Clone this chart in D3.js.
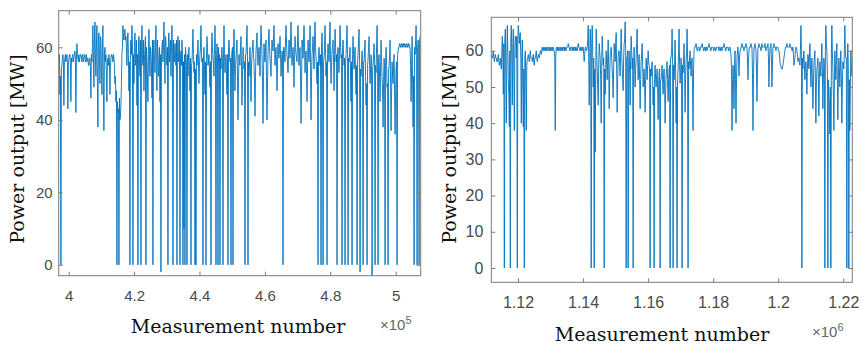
<!DOCTYPE html>
<html>
<head>
<meta charset="utf-8">
<script src="https://cdn.jsdelivr.net/npm/d3@7"></script>
<style>
  html, body { margin: 0; padding: 0; background: #fff; }
  svg { display: block; }
</style>
</head>
<body>
<svg id="chart" width="863" height="348"></svg>
<script>
// ---------------- DATA ----------------
// Left panel: measurement numbers start + step, power output values [MW]
const leftStart = 397000;
const leftStep = 306;
const leftValues = [
  56, 47, 0, 55, 58, 44, 57, 56, 58, 43,
  57, 58, 45, 56, 58, 57, 59, 42, 61, 57,
  58, 57, 58, 56, 58, 57, 58, 57, 56, 57,
  55, 57, 46, 56, 66, 49, 67, 52, 66, 38,
  64, 50, 62, 47, 66, 37, 60, 58, 45, 57,
  58, 47, 57, 58, 56, 57, 50, 45, 0, 42,
  0, 40, 44, 58, 66, 62, 65, 63, 55, 64,
  48, 0, 62, 66, 0, 50, 64, 58, 44, 0,
  63, 52, 0, 66, 55, 48, 60, 0, 57, 45,
  65, 52, 58, 46, 0, 62, 53, 66, 48, 58,
  55, 45, -2, 60, 56, 67, 50, 62, 55, 0,
  64, 58, 52, 66, 0, 58, 61, 55, 0, 63,
  57, 0, 59, 62, 0, 10, 0, 58, 0, 52,
  60, 48, 0, 56, 65, 53, 0, 0, 55, 62,
  50, 58, 66, 56, 0, 60, 47, 0, 63, 55,
  58, 49, 0, 64, 57, 52, 66, 0, 61, 0,
  56, 0, 54, 60, 0, 66, 53, 58, 47, 0,
  62, 56, 0, 59, 0, 65, 48, 57, 62, 40,
  58, 55, 63, 44, 60, 54, 0, 58, 66, 0,
  52, 60, 45, 58, 62, 56, 41, 59, 64, 55,
  60, 52, 66, 58, 39, 61, 56, 62, 40, 58,
  65, 57, 52, 62, 59, 66, 55, 60, 48, 61,
  57, 63, 52, 59, 0, 60, 56, 66, 58, 53,
  62, 57, 67, 55, 60, 49, 63, 58, 56, 66,
  55, 60, 39, 62, 57, 66, 53, 59, 45, 62,
  56, 66, 40, 58, 63, 54, 67, 57, 50, 0,
  60, 55, 0, 64, 0, 57, 66, 52, 0, 61,
  56, 67, 50, 59, 62, 48, 65, 56, 0, 60,
  53, 66, 57, 0, 62, 55, 0, 58, 66, 0,
  56, 60, 45, 0, 63, 54, 60, 47, 0, 58,
  65, -2, 52, 59, 0, 56, 62, 44, 0, 57,
  63, 50, 58, -3, 55, 61, 0, 53, 66, 0,
  58, 45, 62, 52, 38, 57, 0, 60, 49, 0,
  55, 62, 37, 56, 50, 58, 36, 54, 0, 59,
  60, 61, 60, 61, 61, 60, 61, 60, 61, 60,
  61, 60, 45, 63, 38, 0, 58, 66, 0, 62,
  0, 63
];
// Intermediate samples (between consecutive leftValues)
const leftValuesMid = [
  58, 52, 54, 57, 56, 56, 58, 57, 56, 55,
  58, 56, 57, 58, 56, 58, 57, 56, 58, 56,
  56, 58, 57, 58, 56, 58, 56, 58, 57, 55,
  57, 54, 58, 60, 57, 62, 58, 60, 50, 62,
  58, 63, 54, 60, 48, 58, 56, 52, 56, 55,
  56, 55, 58, 57, 58, 55, 52, 48, 45, 43,
  46, 41, 50, 60, 63, 64, 62, 60, 62, 58,
  56, 60, 58, 61, 58, 60, 55, 62, 58, 60,
  57, 62, 60, 58, 62, 56, 63, 60, 52, 58,
  58, 60, 55, 62, 60, 57, 60, 55, 62, 52,
  60, 58, 58, 62, 60, 58, 63, 56, 60, 62,
  56, 62, 60, 58, 62, 56, 58, 62, 60, 56,
  62, 57, 55, 58, 56, 58, 60, 55, 58, 58,
  54, 57, 55, 60, 58, 56, 54, 58, 57, 56,
  55, 60, 58, 57, 56, 54, 56, 57, 60, 56,
  54, 56, 58, 60, 55, 60, 58, 56, 58, 60,
  58, 57, 58, 56, 57, 58, 56, 52, 58, 60,
  58, 57, 56, 60, 58, 56, 55, 60, 52, 50,
  56, 60, 55, 52, 58, 56, 58, 62, 58, 56,
  56, 54, 55, 60, 58, 50, 52, 61, 58, 58,
  56, 60, 62, 50, 52, 58, 60, 52, 50, 62,
  60, 55, 58, 60, 62, 60, 58, 55, 56, 58,
  60, 58, 56, 58, 60, 58, 62, 61, 56, 58,
  60, 62, 60, 58, 56, 58, 60, 57, 62, 60,
  58, 52, 50, 60, 62, 60, 56, 52, 55, 58,
  60, 55, 52, 60, 58, 62, 60, 54, 56, 58,
  57, 58, 60, 58, 56, 60, 58, 56, 58, 58,
  62, 56, 55, 60, 56, 58, 60, 58, 57, 56,
  60, 60, 58, 60, 58, 57, 56, 62, 58, 57,
  58, 52, 56, 58, 58, 56, 52, 55, 56, 62,
  56, 54, 56, 55, 56, 60, 52, 50, 55, 60,
  55, 54, 56, 54, 58, 56, 55, 60, 58, 56,
  52, 54, 56, 48, 50, 54, 56, 55, 50, 54,
  58, 50, 48, 52, 55, 48, 46, 56, 58, 60,
  61, 60, 61, 60, 61, 61, 60, 61, 60, 61,
  60, 55, 54, 50, 52, 60, 62, 58, 60, 61,
  62
];

// Right panel
const rightStart = 1111800;
const rightStep = 307;
const rightValues = [
  59, 58, 60, 57, 59, 58, 57, 59, 56, 58,
  55, 64, 48, 0, 66, 40, 67, 52, 39, 0,
  67, 45, 66, 38, 64, 58, 0, 67, 62, 65,
  40, 63, 39, 0, 60, 38, 58, 59, 57, 60,
  58, 57, 59, 56, 58, 60, 57, 59, 58, 60,
  59, 61, 60, 61, 60, 61, 61, 60, 61, 60,
  61, 60, 61, 60, 38, 61, 60, 61, 60, 61,
  60, 61, 61, 60, 61, 60, 61, 62, 61, 60,
  61, 60, 61, 61, 60, 61, 60, 62, 61, 60,
  61, 60, 61, 57, 61, 60, 61, 67, 45, 66,
  0, 67, 50, 0, 32, 66, 55, 45, 62, 58,
  40, 64, 56, 0, 48, 60, 52, 63, 44, 59,
  61, 55, 47, 62, 57, 65, 43, 58, 60, 53,
  66, 56, 49, 62, 68, 0, 58, 0, 60, 45,
  64, 55, 0, 61, 50, 58, 66, 52, 59, 44,
  57, 62, 50, 55, 43, 58, 52, 60, 56, 0,
  53, 57, 45, 0, 56, 50, 55, 41, 54, 0,
  52, 56, 48, 55, 40, 53, 57, 46, 55, 0,
  58, 66, 0, 52, 63, 40, 0, 55, 66, 51,
  58, 0, 54, 62, 43, 57, 66, 0, 55, 60,
  53, 58, 38, 60, 61, 62, 60, 61, 61, 60,
  61, 62, 61, 60, 61, 61, 60, 61, 62, 61,
  60, 61, 61, 60, 61, 60, 61, 61, 60, 61,
  61, 60, 61, 62, 61, 60, 61, 61, 60, 61,
  59, 38, 56, 44, 60, 40, 58, 61, 53, 60,
  61, 62, 61, 60, 61, 62, 61, 52, 60, 61,
  62, 61, 38, 61, 62, 60, 46, 61, 62, 61,
  60, 62, 61, 61, 62, 60, 61, 62, 50, 61,
  62, 50, 61, 62, 61, 60, 61, 61, 60, 57,
  56, 55, 56, 58, 60, 61, 62, 61, 61, 62,
  61, 60, 61, 56, 58, 61, 60, 57, 58, 56,
  67, 0, 55, 60, 52, 57, 48, 59, 55, 62,
  50, 58, 44, 56, 60, 40, 55, 58, 42, 57,
  53, 62, 44, 58, 0, 67, 60, 0, 48, 37,
  0, 67, 55, 38, 60, 52, 62, 41, 58, 50,
  60, 40, 57, 55, 67, 58, 0, 62, 0, 38,
  60, 53
];
const rightValuesMid = [
  58, 59, 58, 58, 58, 57, 58, 57, 57, 56,
  60, 58, 62, 63, 55, 58, 60, 48, 60, 63,
  58, 62, 55, 60, 63, 64, 63, 65, 64, 58,
  58, 50, 55, 58, 50, 56, 58, 58, 58, 58,
  58, 58, 57, 58, 59, 58, 58, 59, 59, 60,
  60, 60, 61, 60, 61, 60, 61, 60, 60, 61,
  60, 61, 60, 58, 58, 61, 61, 60, 61, 60,
  61, 60, 61, 61, 60, 61, 61, 61, 60, 61,
  61, 61, 60, 61, 61, 60, 61, 61, 60, 61,
  60, 61, 59, 59, 61, 60, 63, 58, 57, 60,
  62, 60, 58, 55, 52, 60, 50, 55, 60, 52,
  55, 60, 58, 55, 55, 56, 58, 55, 52, 60,
  58, 52, 56, 60, 62, 55, 52, 60, 56, 60,
  60, 52, 58, 63, 60, 58, 60, 56, 54, 58,
  60, 58, 56, 55, 55, 62, 58, 55, 52, 52,
  59, 56, 52, 50, 52, 55, 56, 57, 55, 55,
  55, 52, 50, 53, 52, 53, 50, 50, 55, 52,
  54, 52, 53, 50, 48, 55, 52, 52, 56, 58,
  60, 58, 56, 57, 55, 50, 52, 60, 56, 54,
  55, 56, 58, 55, 52, 60, 58, 57, 58, 56,
  57, 50, 55, 61, 61, 61, 60, 61, 60, 61,
  61, 61, 60, 61, 60, 61, 61, 61, 61, 60,
  61, 61, 60, 61, 60, 61, 61, 61, 61, 60,
  61, 61, 61, 61, 60, 61, 61, 60, 61, 60,
  55, 50, 52, 55, 52, 52, 60, 58, 58, 60,
  61, 61, 61, 61, 61, 61, 58, 57, 61, 61,
  61, 54, 52, 61, 61, 55, 55, 61, 61, 61,
  61, 61, 61, 61, 61, 61, 61, 58, 56, 61,
  58, 56, 61, 61, 61, 61, 61, 60, 59, 56,
  55, 55, 57, 59, 61, 61, 61, 61, 61, 61,
  61, 60, 59, 57, 60, 61, 59, 58, 57, 60,
  60, 58, 58, 56, 55, 54, 55, 58, 58, 56,
  55, 52, 50, 58, 52, 50, 56, 52, 52, 55,
  58, 55, 52, 56, 60, 62, 55, 52, 45, 50,
  58, 60, 48, 50, 56, 58, 52, 52, 55, 56,
  52, 50, 56, 60, 60, 58, 58, 56, 52, 50,
  56
];

// Axis ticks and labels
const leftXTicks = [400000, 420000, 440000, 460000, 480000, 500000];
const leftXTickLabels = ["4", "4.2", "4.4", "4.6", "4.8", "5"];
const leftYTicks = [0, 20, 40, 60];
const leftExponent = "5";

const rightXTicks = [1120000, 1140000, 1160000, 1180000, 1200000, 1220000];
const rightXTickLabels = ["1.12", "1.14", "1.16", "1.18", "1.2", "1.22"];
const rightYTicks = [0, 10, 20, 30, 40, 50, 60];
const rightExponent = "6";

const xTitle = "Measurement number";
const yTitle = "Power output [MW]";

// ---------------- LAYOUT ----------------
const panels = [
  {
    values: leftValues, mids: leftValuesMid, start: leftStart, step: leftStep,
    xDomain: [396940, 507650], yDomain: [-3, 70.1],
    box: { left: 58.7, right: 420.7, top: 10.7, bottom: 275.7 },
    xTicks: leftXTicks, xLabels: leftXTickLabels, yTicks: leftYTicks,
    tickFont: 15, xPad: 14.5, yPad: 6,
    expo: leftExponent, expoX: 380, expoY: 330,
    xTitleX: 238, xTitleY: 333, yTitleX: 24, yTitleY: 149
  },
  {
    values: rightValues, mids: rightValuesMid, start: rightStart, step: rightStep,
    xDomain: [1111785, 1222770], yDomain: [-3.95, 69.25],
    box: { left: 491.3, right: 852.3, top: 17.3, bottom: 282.3 },
    xTicks: rightXTicks, xLabels: rightXTickLabels, yTicks: rightYTicks,
    tickFont: 16, xPad: 14.5, yPad: 8,
    expo: rightExponent, expoX: 812, expoY: 337,
    xTitleX: 662, xTitleY: 341, yTitleX: 456, yTitleY: 149
  }
];

const svg = d3.select("#chart");
const lineColor = "#0072BD";
const axisColor = "#7a7a7a";
const labelColor = "#4a4a4a";

panels.forEach((p, pi) => {
  const b = p.box;
  const x = d3.scaleLinear().domain(p.xDomain).range([b.left, b.right]);
  const y = d3.scaleLinear().domain(p.yDomain).range([b.bottom, b.top]);
  const data = [];
  p.values.forEach((v, i) => {
    data.push({ m: p.start + i * p.step, v });
    if (i < p.mids.length) data.push({ m: p.start + (i + 0.5) * p.step, v: p.mids[i] });
  });

  const clipId = "clip" + pi;
  svg.append("clipPath").attr("id", clipId)
    .append("rect")
    .attr("x", b.left).attr("y", b.top)
    .attr("width", b.right - b.left).attr("height", b.bottom - b.top);

  const line = d3.line().x(d => x(d.m)).y(d => y(d.v));
  svg.append("path")
    .datum(data)
    .attr("clip-path", `url(#${clipId})`)
    .attr("fill", "none")
    .attr("stroke", lineColor)
    .attr("stroke-width", 0.9)
    .attr("stroke-linejoin", "round")
    .attr("d", line);

  // Box
  svg.append("rect")
    .attr("x", b.left).attr("y", b.top)
    .attr("width", b.right - b.left).attr("height", b.bottom - b.top)
    .attr("fill", "none").attr("stroke", axisColor).attr("stroke-width", 1);

  const styleAxis = g => {
    g.select(".domain").remove();
    g.selectAll(".tick line").attr("stroke", axisColor);
    g.selectAll(".tick text")
      .attr("fill", labelColor)
      .attr("font-family", "'Liberation Sans', Arial, sans-serif")
      .attr("font-size", p.tickFont);
  };

  svg.append("g")
    .attr("transform", `translate(0,${b.bottom})`)
    .call(d3.axisBottom(x).tickValues(p.xTicks)
      .tickFormat((d, i) => p.xLabels[i]).tickSize(-4).tickPadding(p.xPad))
    .call(styleAxis);
  svg.append("g")
    .attr("transform", `translate(0,${b.top})`)
    .call(d3.axisTop(x).tickValues(p.xTicks).tickFormat("").tickSize(-4))
    .call(styleAxis);
  svg.append("g")
    .attr("transform", `translate(${b.left},0)`)
    .call(d3.axisLeft(y).tickValues(p.yTicks).tickFormat(d3.format("d"))
      .tickSize(-4).tickPadding(p.yPad))
    .call(styleAxis);
  svg.append("g")
    .attr("transform", `translate(${b.right},0)`)
    .call(d3.axisRight(y).tickValues(p.yTicks).tickFormat("").tickSize(-4))
    .call(styleAxis);

  const ex = svg.append("text")
    .attr("x", p.expoX).attr("y", p.expoY)
    .attr("fill", "#666")
    .attr("font-family", "'Liberation Sans', Arial, sans-serif")
    .attr("font-size", 15);
  ex.append("tspan").text("\u00d710");
  ex.append("tspan").attr("dy", -6).attr("font-size", 11).text(p.expo);

  svg.append("text")
    .attr("x", p.xTitleX).attr("y", p.xTitleY)
    .attr("text-anchor", "middle")
    .attr("fill", "#111")
    .attr("font-family", "'DejaVu Serif', serif")
    .attr("font-size", 19)
    .text(xTitle);
  svg.append("text")
    .attr("transform", `translate(${p.yTitleX},${p.yTitleY}) rotate(-90)`)
    .attr("text-anchor", "middle")
    .attr("fill", "#111")
    .attr("font-family", "'DejaVu Serif', serif")
    .attr("font-size", 19)
    .text(yTitle);
});
</script>
</body>
</html>
